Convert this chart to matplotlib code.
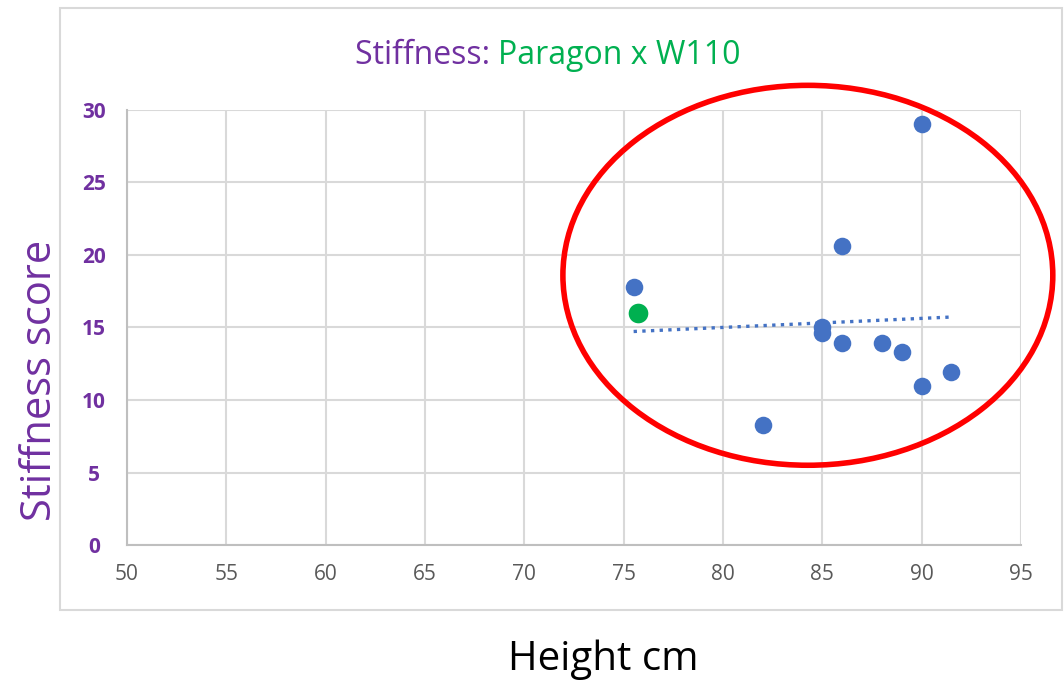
import numpy as np
import matplotlib
matplotlib.use("Agg")
import matplotlib.pyplot as plt
from matplotlib.patches import Ellipse, Rectangle

# Data
height_blue = [75.5, 82.0, 86.0, 90.0, 85.0, 85.0, 86.0, 88.0, 89.0, 90.0, 91.5]
stiff_blue = [17.8, 8.3, 20.6, 29.0, 15.0, 14.6, 13.9, 13.9, 13.3, 11.0, 11.9]
height_green = [75.7]
stiff_green = [16.0]
x_ticks = [50, 55, 60, 65, 70, 75, 80, 85, 90, 95]
y_ticks = [0, 5, 10, 15, 20, 25, 30]

BLUE = "#4472C4"
GREEN = "#00B050"
PURPLE = "#7030A0"
GRID = "#D9D9D9"

plt.rcParams['font.family'] = ['Open Sans', 'DejaVu Sans']

fig = plt.figure(figsize=(10.64, 6.84), dpi=100)
ax = fig.add_axes([0.1194, 0.2032, 0.9596 - 0.1194, 0.8392 - 0.2032])

# Chart border
fig.patches.append(Rectangle((0.0564, 0.1082), 0.9417, 0.880, transform=fig.transFigure,
                             fill=False, edgecolor=GRID, linewidth=1.5))

ax.set_xlim(50, 95)
ax.set_ylim(0, 30)
ax.set_xticks(x_ticks)
ax.set_yticks(y_ticks)
ax.grid(True, color=GRID, linewidth=1.5)
ax.set_axisbelow(True)
for s in ['top', 'right']:
    ax.spines[s].set_visible(False)
for s in ['left', 'bottom']:
    ax.spines[s].set_color("#BFBFBF")
    ax.spines[s].set_linewidth(1.5)
ax.tick_params(axis='x', length=0, pad=14, labelsize=15, labelcolor="#595959")
ax.tick_params(axis='y', length=0, pad=24, labelsize=15, labelcolor=PURPLE)
for lbl in ax.get_yticklabels():
    lbl.set_fontweight('bold')
    lbl.set_horizontalalignment('center')

# Trendline (linear fit on blue series)
coef = np.polyfit(height_blue, stiff_blue, 1)
xt = np.array([min(height_blue), max(height_blue)])
ax.plot(xt, np.polyval(coef, xt), linestyle=(0, (1, 1.6)), color=BLUE, linewidth=2.4, zorder=2)

ax.scatter(height_blue, stiff_blue, s=160, color=BLUE, zorder=3, linewidths=0)
ax.scatter(height_green, stiff_green, s=200, color=GREEN, zorder=4, linewidths=0)

# Red ellipse highlight
ax.add_patch(Ellipse((84.27, 18.6), 24.66, 26.2, fill=False, edgecolor='#FF0000',
                     linewidth=4, clip_on=False, zorder=5))

# Title in two colours
t1 = fig.text(0.3336, 0.906, "Stiffness: ", color=PURPLE, fontsize=23, va='baseline')
fig.canvas.draw()
ax.annotate("Paragon x W110", xy=(1, 0), xycoords=t1, color=GREEN, fontsize=23,
            va='bottom', ha='left', annotation_clip=False)

fig.text(0.038, 0.444, "Stiffness score", rotation=90, color=PURPLE, fontsize=30,
         ha='center', va='center')
fig.text(0.567, 0.035, "Height cm", color='black', fontsize=29, ha='center', va='center')

fig.savefig("out.png", dpi=100)
